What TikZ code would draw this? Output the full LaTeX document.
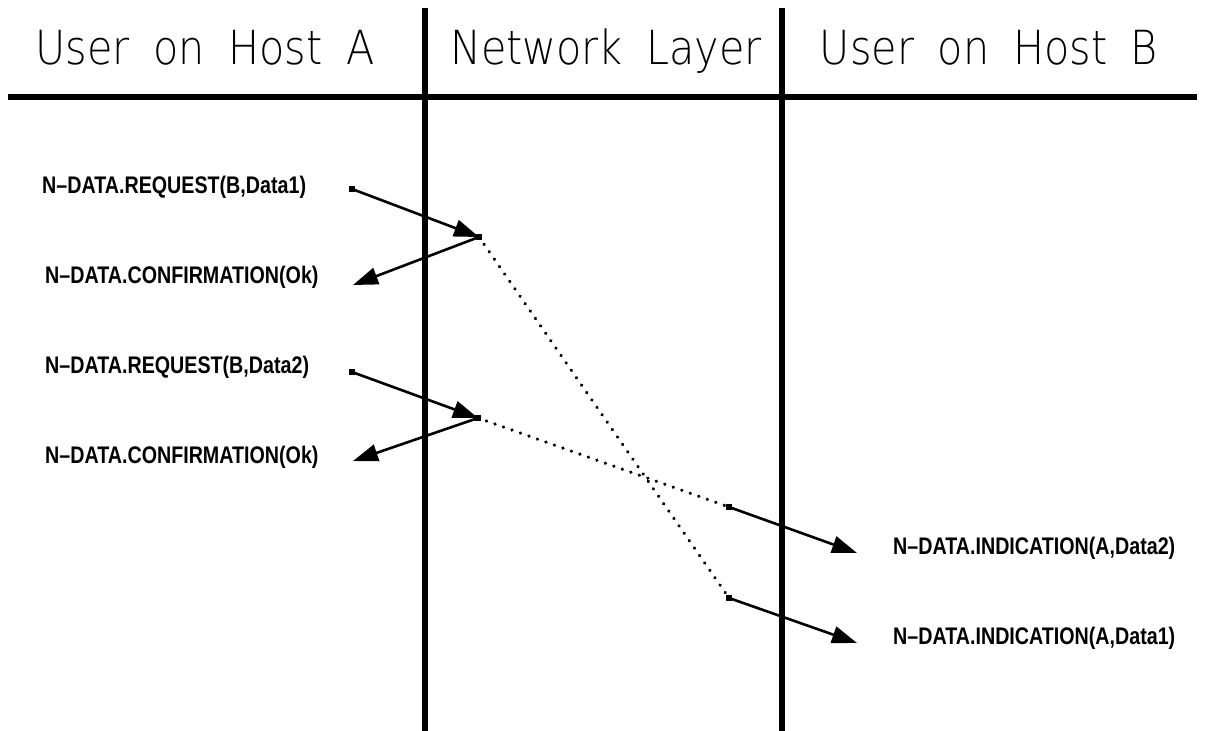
\documentclass[tikz,border=0pt]{standalone}
\usepackage{fontspec}
\setmainfont{Liberation Sans}
\IfFontExistsTF{DejaVu Sans ExtraLight}
  {\newfontfamily\headfont{DejaVu Sans ExtraLight}[FakeStretch=0.88, WordSpace=1.8]}
  {\newfontfamily\headfont{DejaVu Sans}[FakeStretch=0.88, WordSpace=1.8]}
\newfontfamily\primfont{Liberation Sans}[FakeStretch=0.82]
\usetikzlibrary{arrows.meta}

\begin{document}
\begin{tikzpicture}[x=1pt,y=-1pt,
  lane/.style={line width=6pt},
  head/.style={font=\headfont\fontsize{47}{56}\selectfont, anchor=base, inner sep=0pt},
  prim/.style={font=\primfont\bfseries\fontsize{24}{28}\selectfont, inner sep=0pt},
  msg/.style={line width=2.6pt, -{Triangle[length=25pt,width=17pt]}},
  svc/.style={line width=3.6pt, line cap=round, dash pattern=on 0.01pt off 9pt},
  pt/.style={fill, minimum size=6pt, inner sep=0pt, outer sep=0pt}]

\useasboundingbox (0,0) rectangle (1205,731);

% lane boundaries and header rule
\coordinate (la) at (425,8);  \coordinate (lb) at (425,731);
\coordinate (ra) at (782,8);  \coordinate (rb) at (782,731);
\coordinate (hl) at (8,97);   \coordinate (hr) at (1197,97);
\draw[lane] (la) -- (lb);
\draw[lane] (ra) -- (rb);
\draw[lane] (hl) -- (hr);

% column headings
\node[head] (hA) at (205,64) {User on Host A};
\node[head] (hN) at (606,64) {Network Layer};
\node[head] (hB) at (989,64) {User on Host B};

% event points
\node[pt] (r1) at (352,189) {};
\node[pt] (n1) at (479,237) {};
\coordinate (c1) at (353,285);
\node[pt] (r2) at (352,372) {};
\node[pt] (n2) at (478,418) {};
\coordinate (c2) at (353,461);
\node[pt] (d2) at (729,507) {};
\coordinate (i2) at (857,553);
\node[pt] (d1) at (729,598) {};
\coordinate (i1) at (857,643);

% service primitives
\node[prim, anchor=base west] (lr1) at (42,193) {N–DATA.REQUEST(B,Data1)};
\node[prim, anchor=base west] (lc1) at (45,283) {N–DATA.CONFIRMATION(Ok)};
\node[prim, anchor=base west] (lr2) at (45,373) {N–DATA.REQUEST(B,Data2)};
\node[prim, anchor=base west] (lc2) at (45,463) {N–DATA.CONFIRMATION(Ok)};
\node[prim, anchor=base west] (li2) at (893,554) {N–DATA.INDICATION(A,Data2)};
\node[prim, anchor=base west] (li1) at (893,644) {N–DATA.INDICATION(A,Data1)};

% local interactions
\draw[msg] (r1.center) -- (n1.center);
\draw[msg] (n1.center) -- (c1);
\draw[msg] (r2.center) -- (n2.center);
\draw[msg] (n2.center) -- (c2);
\draw[msg] (d2.center) -- (i2);
\draw[msg] (d1.center) -- (i1);

% transfer through the network
\draw[svc] (n1.center) -- (d1.center);
\draw[svc] (n2.center) -- (d2.center);
\end{tikzpicture}
\end{document}
